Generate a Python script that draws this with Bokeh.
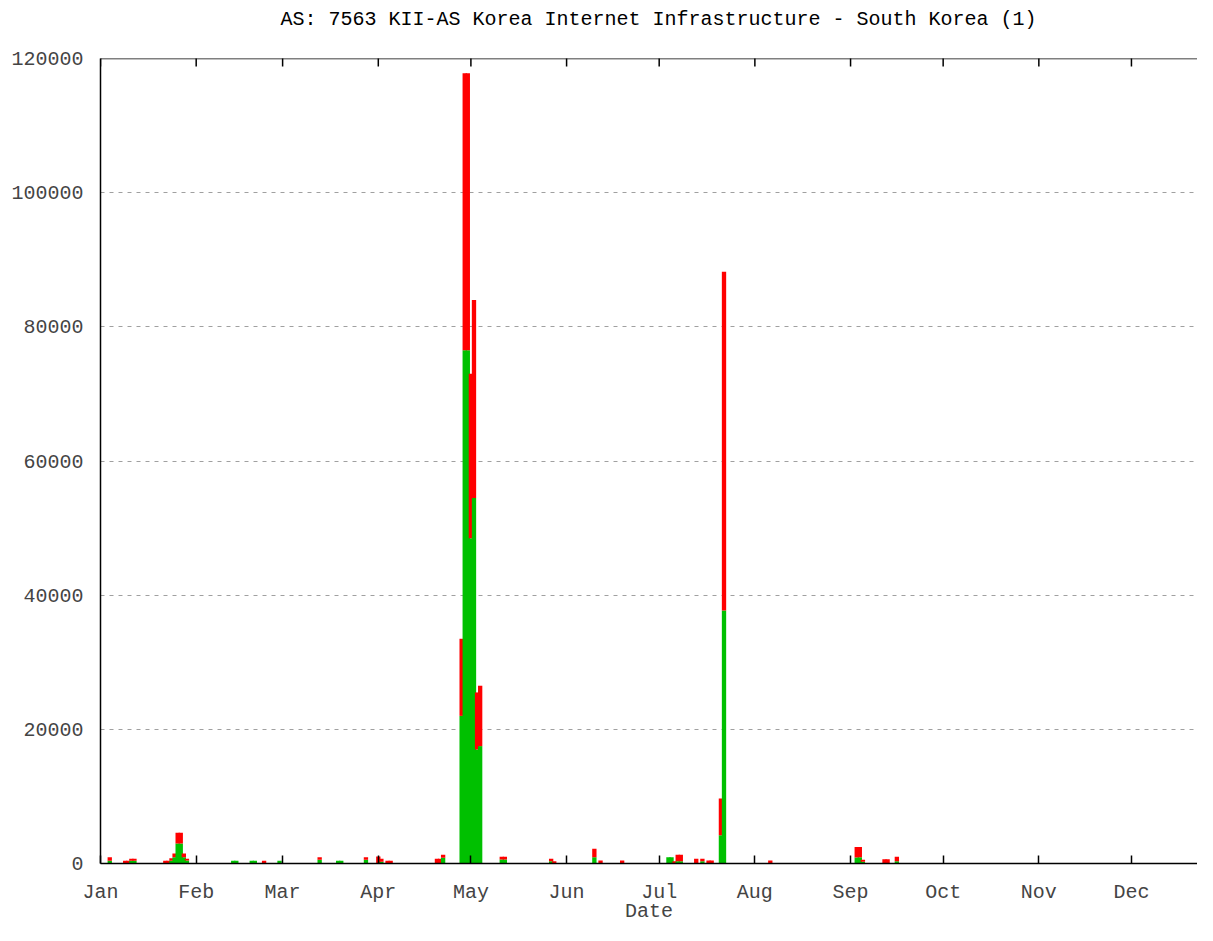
import math
from bokeh.plotting import figure
from bokeh.models import (Range1d, FixedTicker, NumeralTickFormatter,
                          ColumnDataSource, Span, LinearAxis)
from bokeh.embed import file_html
from bokeh.resources import INLINE

chart_title = "AS: 7563 KII-AS Korea Internet Infrastructure - South Korea (1)"
x_axis_title = "Date"

month_labels = ["Jan", "Feb", "Mar", "Apr", "May", "Jun",
                "Jul", "Aug", "Sep", "Oct", "Nov", "Dec"]
month_start_days = [0, 31, 59, 90, 120, 151, 181, 212, 243, 273, 304, 334]
y_ticks = [0, 20000, 40000, 60000, 80000, 100000, 120000]
y_max = 120000

# day of year (Jan 1 = 0)
days = [3, 8, 9, 10, 11, 21, 22, 23, 24, 25, 26, 27, 28,
        43, 44, 49, 50, 53, 58, 71, 77, 78, 86, 90, 91, 93, 94,
        109, 110, 111, 117, 118, 119, 120, 121, 122, 123,
        130, 131, 146, 147, 160, 162, 169, 184, 185, 186, 187, 188,
        193, 195, 197, 198, 201, 202, 217, 245, 246, 247, 254, 255, 258]
# lower (green) series
green_values = [400, 0, 0, 400, 400, 0, 0, 400, 950, 3000, 3000, 950, 450,
                400, 400, 400, 400, 0, 400, 550, 400, 400, 550, 0, 250, 0, 0,
                0, 0, 850, 22000, 76500, 76500, 48500, 54500, 17000, 17500,
                600, 600, 350, 0, 950, 0, 0, 950, 950, 0, 350, 350,
                0, 350, 0, 0, 4200, 37700, 0, 900, 950, 250, 0, 0, 350]
# upper (red) series stacked on top: total height per day
total_values = [950, 400, 400, 700, 700, 400, 400, 800, 1500, 4600, 4600, 1500, 700,
                400, 400, 400, 400, 400, 400, 950, 400, 400, 950, 1050, 700, 400, 400,
                700, 700, 1300, 33500, 117800, 117800, 73000, 84000, 25500, 26500,
                1000, 1000, 700, 350, 2200, 450, 450, 950, 950, 350, 1300, 1300,
                700, 700, 450, 450, 9700, 88200, 450, 2450, 2450, 550, 650, 650, 1000]

GREEN = "#00c000"
RED = "#ff0000"
FONT = "Liberation Mono"
FS = "20px"

xs, bottoms, tops, colors = [], [], [], []
for d, g, t in zip(days, green_values, total_values):
    if g > 0:
        xs.append(d); bottoms.append(0); tops.append(g); colors.append(GREEN)
    if t > g:
        xs.append(d); bottoms.append(g); tops.append(t); colors.append(RED)
src = ColumnDataSource(dict(x=xs, bottom=bottoms, top=tops, color=colors))

p = figure(width=1197, height=925, output_backend="svg", toolbar_location=None,
           x_range=Range1d(0, 355.4), y_range=Range1d(0, y_max),
           min_border_left=100, min_border_right=0, min_border_top=58,
           min_border_bottom=62, background_fill_color="white",
           border_fill_color="white")
p.outline_line_color = None

p.vbar(x="x", bottom="bottom", top="top", width=1.4, fill_color="color",
       line_color=None, source=src)

xa = p.xaxis[0]
xa.ticker = FixedTicker(ticks=month_start_days)
xa.major_label_overrides = {d: m for d, m in zip(month_start_days, month_labels)}
xa.major_label_text_font = FONT
xa.major_label_text_font_size = FS
xa.major_label_standoff = 17
xa.axis_label = x_axis_title
xa.axis_label_text_font = FONT
xa.axis_label_text_font_size = FS
xa.axis_label_text_font_style = "normal"
xa.axis_label_standoff = -7
xa.major_tick_in = 8
xa.major_tick_out = 0
xa.minor_tick_line_color = None
xa.axis_line_width = 1.5
xa.major_tick_line_width = 1.5

ya = p.yaxis[0]
ya.ticker = FixedTicker(ticks=y_ticks)
ya.formatter = NumeralTickFormatter(format="0")
ya.major_label_text_font = FONT
ya.major_label_text_font_size = FS
ya.major_label_standoff = 17
ya.major_tick_in = 0
ya.major_tick_out = 0
ya.minor_tick_line_color = None
ya.axis_line_width = 1.5

# top border with inward month ticks (gnuplot-style mirrored tics)
p.add_layout(Span(location=y_max, dimension="width", line_color="black",
                  line_width=1.5))
p.scatter(x=month_start_days, y=[y_max] * len(month_start_days), marker="dash",
          angle=math.pi / 2, size=16, line_color="black", line_width=1.5)

# invisible spacer panel between the frame and the title
spacer = LinearAxis(ticker=FixedTicker(ticks=[0]), axis_line_color=None,
                    major_tick_out=26, major_tick_in=0,
                    major_tick_line_color=None, minor_tick_line_color=None,
                    major_label_standoff=0, major_label_text_color=None,
                    major_label_text_font_size="1px")
p.add_layout(spacer, "above")

p.xgrid.grid_line_color = None
p.ygrid.grid_line_color = "#a0a0a0"
p.ygrid.grid_line_dash = "4 5"
p.ygrid.grid_line_width = 1

p.title.text = chart_title
p.title.align = "left"
p.title.offset = 180
p.title.text_font = FONT
p.title.text_font_size = FS
p.title.text_font_style = "normal"
p.title.text_color = "black"
p.title.standoff = 4

open("out.html", "w").write(file_html(p, INLINE))
